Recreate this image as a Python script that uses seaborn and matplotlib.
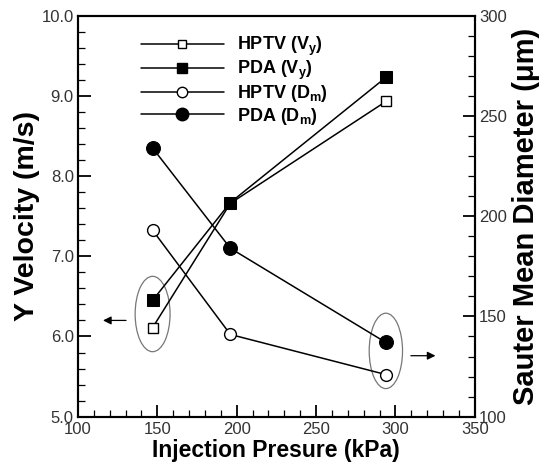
import matplotlib
matplotlib.use("Agg")
import matplotlib.pyplot as plt
import seaborn as sns
import pandas as pd
from matplotlib.patches import Ellipse
from matplotlib.lines import Line2D
from matplotlib.ticker import MultipleLocator, FormatStrFormatter

pressure = [147, 196, 294]
hptv_vy = [6.11, 7.66, 8.93]
pda_vy = [6.45, 7.67, 9.23]
hptv_dm = [193, 141, 121]
pda_dm = [234, 184, 137]
labels = [r"HPTV (V$_{\mathbf{y}}$)", r"PDA (V$_{\mathbf{y}}$)",
          r"HPTV (D$_{\mathbf{m}}$)", r"PDA (D$_{\mathbf{m}}$)"]

sns.set_style("ticks")
plt.rcParams['font.family'] = ['Liberation Sans', 'DejaVu Sans']
plt.rcParams['mathtext.fontset'] = 'custom'
plt.rcParams['mathtext.bf'] = 'Liberation Sans:bold'
plt.rcParams['mathtext.rm'] = 'Liberation Sans'
plt.rcParams['text.color'] = 'black'
plt.rcParams['axes.labelcolor'] = 'black'

fig = plt.figure(figsize=(5.41, 4.68), dpi=100)
ax = fig.add_axes([0.1442, 0.1097, 0.7333, 0.8568])
ax2 = ax.twinx()

df = pd.DataFrame({"p": pressure, "hv": hptv_vy, "pv": pda_vy, "hd": hptv_dm, "pd": pda_dm})
lw = 1.1
sq_open = dict(marker="s", markersize=7, markerfacecolor="white", markeredgecolor="black", markeredgewidth=1.0)
sq_fill = dict(marker="s", markersize=8, markerfacecolor="black", markeredgecolor="black")
ci_open = dict(marker="o", markersize=8.5, markerfacecolor="white", markeredgecolor="black", markeredgewidth=1.0)
ci_fill = dict(marker="o", markersize=10, markerfacecolor="black", markeredgecolor="black")
sns.lineplot(data=df, x="p", y="hv", ax=ax, color="black", lw=lw, **sq_open)
sns.lineplot(data=df, x="p", y="pv", ax=ax, color="black", lw=lw, **sq_fill)
sns.lineplot(data=df, x="p", y="hd", ax=ax2, color="black", lw=lw, **ci_open)
sns.lineplot(data=df, x="p", y="pd", ax=ax2, color="black", lw=lw, **ci_fill)

ax.set_xlim(100, 350)
ax.set_ylim(5.0, 10.0)
ax2.set_ylim(100, 300)
ax.xaxis.set_major_locator(MultipleLocator(50))
ax.xaxis.set_minor_locator(MultipleLocator(10))
ax.yaxis.set_major_locator(MultipleLocator(1.0))
ax.yaxis.set_minor_locator(MultipleLocator(0.2))
ax2.yaxis.set_major_locator(MultipleLocator(50))
ax2.yaxis.set_minor_locator(MultipleLocator(10))
ax.yaxis.set_major_formatter(FormatStrFormatter("%.1f"))

for a in (ax, ax2):
    a.tick_params(which="major", direction="in", length=9, width=1.3, labelsize=12,
                  colors="black", labelcolor="#333333", pad=3)
    a.tick_params(which="minor", direction="in", length=5, width=0.9, colors="black")
    for s in a.spines.values():
        s.set_linewidth(1.5)
        s.set_color("black")
ax.tick_params(axis="x", which="major", pad=4)

ax.set_xlabel("Injection Presure (kPa)", fontsize=16.5, fontweight="bold", labelpad=1)
ax.set_ylabel("Y Velocity (m/s)", fontsize=20.5, fontweight="bold", labelpad=1)
ax2.set_ylabel("Sauter Mean Diameter (\u03bcm)", fontsize=21, fontweight="bold", labelpad=4)

ax.add_patch(Ellipse((147, 6.28), 22, 0.94, fill=False, edgecolor="#777777", lw=0.9))
ax.add_patch(Ellipse((294, 5.82), 21, 0.94, fill=False, edgecolor="#777777", lw=0.9))
ax.annotate("", xy=(114, 6.2), xytext=(132, 6.2),
            arrowprops=dict(arrowstyle="-|>", color="black", lw=0.9, mutation_scale=12))
ax.annotate("", xy=(327, 5.76), xytext=(308, 5.76),
            arrowprops=dict(arrowstyle="-|>", color="black", lw=0.9, mutation_scale=12),
            annotation_clip=False)

handles = [
    Line2D([], [], color="black", lw=lw, **{**sq_open, "markersize": 6}),
    Line2D([], [], color="black", lw=lw, **{**sq_fill, "markersize": 7}),
    Line2D([], [], color="black", lw=lw, **{**ci_open, "markersize": 7.5}),
    Line2D([], [], color="black", lw=lw, **{**ci_fill, "markersize": 9}),
]
leg = ax.legend(handles, labels, loc="upper left", bbox_to_anchor=(0.158, 0.952), frameon=False,
                handlelength=4.6, labelspacing=0.06, handletextpad=0.75,
                borderaxespad=0, borderpad=0,
                prop={"weight": "bold", "size": 13})

fig.savefig("out.png", dpi=100)
